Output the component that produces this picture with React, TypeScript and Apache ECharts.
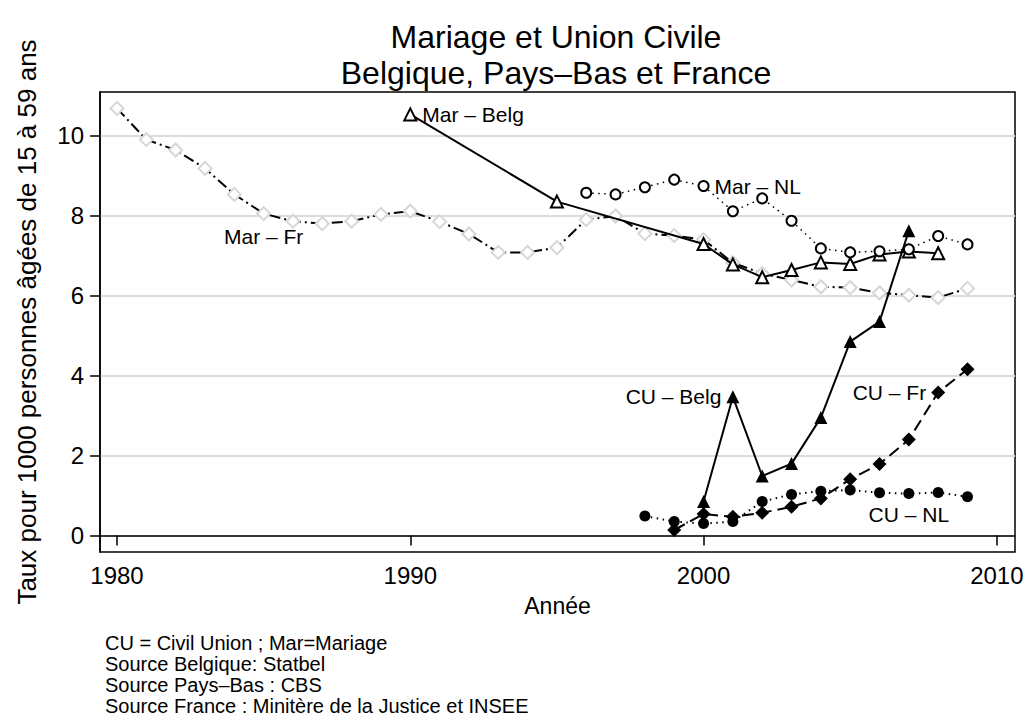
import React, { useEffect, useRef } from "react";
import * as echarts from "echarts";

const FONT = '"Liberation Sans", Arial, Helvetica, sans-serif';

const titleLines = ["Mariage et Union Civile", "Belgique, Pays–Bas et France"];
const xAxisName = "Année";
const yAxisName = "Taux pour 1000 personnes âgées de 15 à 59 ans";
const xTicks = [1980, 1990, 2000, 2010];
const yTicks = [0, 2, 4, 6, 8, 10];
const notes = [
  "CU = Civil Union ; Mar=Mariage",
  "Source Belgique: Statbel",
  "Source Pays–Bas : CBS",
  "Source France : Minitère de la Justice et INSEE",
];

// Mariage – France
const marFrYears = [1980, 1981, 1982, 1983, 1984, 1985, 1986, 1987, 1988, 1989, 1990, 1991, 1992, 1993, 1994, 1995, 1996, 1997, 1998, 1999, 2000, 2001, 2002, 2003, 2004, 2005, 2006, 2007, 2008, 2009];
const marFrValues = [10.68, 9.9, 9.64, 9.18, 8.53, 8.05, 7.86, 7.8, 7.86, 8.03, 8.11, 7.85, 7.54, 7.08, 7.08, 7.2, 7.9, 7.99, 7.55, 7.5, 7.4, 6.82, 6.55, 6.39, 6.22, 6.2, 6.07, 6.01, 5.95, 6.18];

// Mariage – Belgique
const marBelgYears = [1990, 1995, 2000, 2001, 2002, 2003, 2004, 2005, 2006, 2007, 2008];
const marBelgValues = [10.53, 8.35, 7.29, 6.78, 6.46, 6.64, 6.83, 6.79, 7.03, 7.1, 7.06];

// Mariage – Pays-Bas
const marNLYears = [1996, 1997, 1998, 1999, 2000, 2001, 2002, 2003, 2004, 2005, 2006, 2007, 2008, 2009];
const marNLValues = [8.57, 8.53, 8.71, 8.9, 8.74, 8.11, 8.43, 7.87, 7.18, 7.08, 7.11, 7.16, 7.49, 7.28];

// Union civile – Belgique
const cuBelgYears = [2000, 2001, 2002, 2003, 2004, 2005, 2006, 2007];
const cuBelgValues = [0.85, 3.47, 1.49, 1.8, 2.95, 4.85, 5.35, 7.62];

// Union civile – France
const cuFrYears = [1999, 2000, 2001, 2002, 2003, 2004, 2005, 2006, 2007, 2008, 2009];
const cuFrValues = [0.14, 0.54, 0.47, 0.57, 0.72, 0.93, 1.41, 1.79, 2.4, 3.58, 4.16];

// Union civile – Pays-Bas
const cuNLYears = [1998, 1999, 2000, 2001, 2002, 2003, 2004, 2005, 2006, 2007, 2008, 2009];
const cuNLValues = [0.49, 0.35, 0.3, 0.35, 0.85, 1.03, 1.11, 1.14, 1.07, 1.05, 1.08, 0.97];

type LabelSpec = { year: number; text: string; position: string };

function buildData(years: number[], values: number[], lab: LabelSpec) {
  return years.map((y, i) => {
    if (y === lab.year) {
      return {
        value: [y, values[i]],
        label: {
          show: true,
          position: lab.position,
          formatter: lab.text,
          fontFamily: FONT,
          fontSize: 21,
          color: "#000",
          distance: 5,
        },
      };
    }
    return { value: [y, values[i]] };
  });
}

function makeSeries(
  name: string,
  years: number[],
  values: number[],
  lab: LabelSpec,
  lineType: any,
  lineWidth: number,
  symbol: string,
  symbolSize: number,
  fill: string,
  border: string,
  borderWidth: number,
  z: number
) {
  return {
    name,
    type: "line",
    data: buildData(years, values, lab),
    showSymbol: true,
    showAllSymbol: true,
    symbol,
    symbolSize,
    z,
    lineStyle: { color: "#000", width: lineWidth, type: lineType },
    itemStyle: { color: fill, borderColor: border, borderWidth },
    emphasis: { disabled: true },
    labelLayout: { hideOverlap: false },
  };
}

export default function App() {
  const ref = useRef<HTMLDivElement>(null);

  useEffect(() => {
    if (!ref.current) return;
    const chart = echarts.init(ref.current, undefined, { renderer: "svg" });
    const titleStyle = {
      align: "center",
      verticalAlign: "top",
      fontFamily: FONT,
      fontSize: 32,
      lineHeight: 32,
      fill: "#000",
    };
    const option: any = {
      animation: false,
      backgroundColor: "#fff",
      textStyle: { fontFamily: FONT },
      grid: {
        left: 100,
        top: 92,
        right: 19,
        bottom: 166,
        show: true,
        borderColor: "#000",
        borderWidth: 1.5,
        backgroundColor: "transparent",
      },
      xAxis: {
        type: "value",
        min: 1979.42,
        max: 2010.62,
        name: xAxisName,
        nameLocation: "middle",
        nameGap: 42,
        nameTextStyle: { fontFamily: FONT, fontSize: 23, color: "#000" },
        axisLine: { show: true, lineStyle: { color: "#000", width: 1.5 } },
        axisTick: { show: true, length: 10, customValues: xTicks, lineStyle: { color: "#000", width: 1.5 } },
        axisLabel: {
          customValues: xTicks,
          formatter: (v: number) => String(v),
          fontFamily: FONT,
          fontSize: 24,
          color: "#000",
          margin: 11,
        },
        splitLine: { show: false },
      },
      yAxis: {
        type: "value",
        min: -0.41,
        max: 11.09,
        name: yAxisName,
        nameLocation: "middle",
        nameRotate: 90,
        nameGap: 60,
        nameTextStyle: { fontFamily: FONT, fontSize: 26, color: "#000" },
        axisLine: { show: true, lineStyle: { color: "#000", width: 1.5 } },
        axisTick: { show: true, length: 10, customValues: yTicks, lineStyle: { color: "#000", width: 1.5 } },
        axisLabel: {
          customValues: yTicks,
          formatter: (v: number) => String(v),
          fontFamily: FONT,
          fontSize: 24,
          color: "#000",
          margin: 16,
        },
        splitLine: { show: true, customValues: yTicks, lineStyle: { color: "#dcdcdc", width: 2 } },
      },
      graphic: [
        {
          type: "text",
          x: 556,
          y: 21,
          style: { ...titleStyle, text: titleLines[0] },
        },
        {
          type: "text",
          x: 556,
          y: 57,
          style: { ...titleStyle, text: titleLines[1] },
        },
        {
          type: "text",
          x: 105,
          y: 632,
          style: {
            text: notes.join("\n"),
            align: "left",
            verticalAlign: "top",
            fontFamily: FONT,
            fontSize: 20,
            lineHeight: 21,
            fill: "#000",
          },
        },
      ],
      series: [
        makeSeries("Mar – Fr", marFrYears, marFrValues, { year: 1985, text: "Mar – Fr", position: "bottom" }, [11, 4, 2, 4], 2, "diamond", 13, "#fff", "#d6d6d6", 2, 2),
        makeSeries("Mar – Belg", marBelgYears, marBelgValues, { year: 1990, text: "Mar – Belg", position: "right" }, "solid", 2, "triangle", 12, "#fff", "#000", 2, 3),
        makeSeries("Mar – NL", marNLYears, marNLValues, { year: 2000, text: "Mar – NL", position: "right" }, [1.5, 4.5], 1.5, "circle", 10, "#fff", "#000", 2, 3),
        makeSeries("CU – Belg", cuBelgYears, cuBelgValues, { year: 2001, text: "CU – Belg", position: "left" }, "solid", 2, "triangle", 13, "#000", "#000", 0, 4),
        makeSeries("CU – Fr", cuFrYears, cuFrValues, { year: 2008, text: "CU – Fr", position: "left" }, [12, 6], 2, "diamond", 14, "#000", "#000", 0, 4),
        makeSeries("CU – NL", cuNLYears, cuNLValues, { year: 2007, text: "CU – NL", position: "bottom" }, [1.5, 4.5], 2, "circle", 11, "#000", "#000", 0, 4),
      ],
    };
    chart.setOption(option);
    return () => chart.dispose();
  }, []);

  return (
    <div
      ref={ref}
      style={{ position: "fixed", left: 0, top: 0, width: 1034, height: 718, background: "#fff" }}
    />
  );
}
